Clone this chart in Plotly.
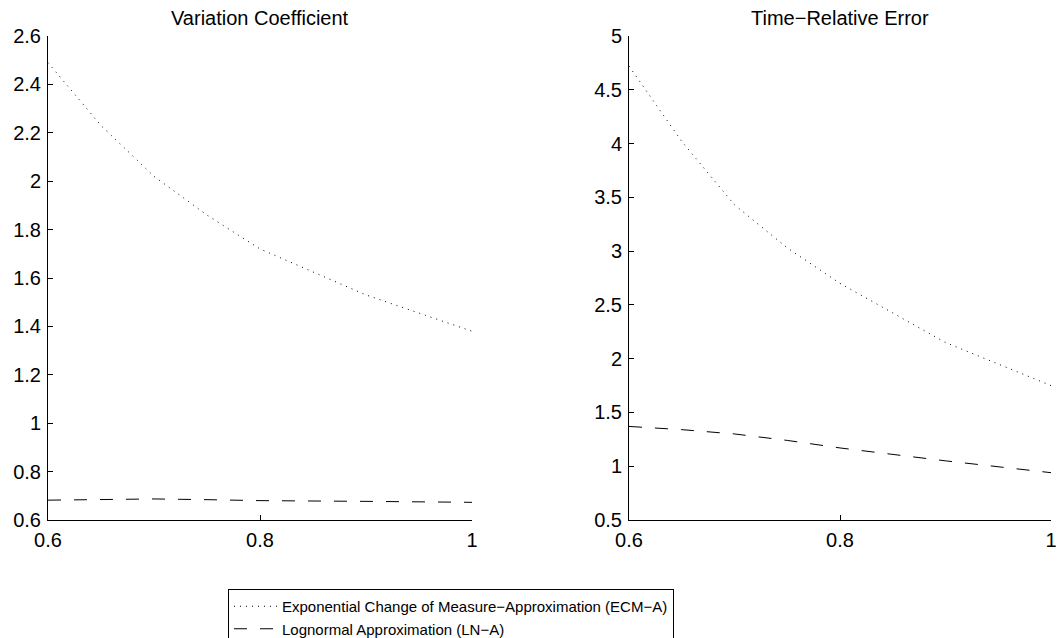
import plotly.graph_objects as go

x_vals = [0.6, 0.65, 0.7, 0.75, 0.8, 0.9, 1.0]
vc_ecm = [2.49, 2.23, 2.02, 1.86, 1.72, 1.53, 1.38]
vc_ln = [0.682, 0.684, 0.687, 0.684, 0.680, 0.677, 0.673]
tre_ecm = [4.72, 4.02, 3.43, 3.03, 2.70, 2.15, 1.75]
tre_ln = [1.37, 1.34, 1.30, 1.24, 1.17, 1.05, 0.94]

titles = ["Variation Coefficient", "Time\u2212Relative Error"]
series_names = ["Exponential Change of Measure\u2212Approximation (ECM\u2212A)",
                "Lognormal Approximation (LN\u2212A)"]

FONT = "Liberation Sans, Arial, sans-serif"
W, H = 1058, 638


def px_x(p):
    return p / W


def px_y(p):
    return 1 - p / H


fig = go.Figure()
dot_style = dict(color="black", width=1, dash="1px,5px")
dash_style = dict(color="black", width=1, dash="13px,13px")

fig.add_trace(go.Scatter(x=x_vals, y=vc_ecm, mode="lines", line=dot_style,
                         name=series_names[0], xaxis="x", yaxis="y"))
fig.add_trace(go.Scatter(x=x_vals, y=vc_ln, mode="lines", line=dash_style,
                         name=series_names[1], xaxis="x", yaxis="y"))
fig.add_trace(go.Scatter(x=x_vals, y=tre_ecm, mode="lines", line=dot_style,
                         name=series_names[0], showlegend=False, xaxis="x2", yaxis="y2"))
fig.add_trace(go.Scatter(x=x_vals, y=tre_ln, mode="lines", line=dash_style,
                         name=series_names[1], showlegend=False, xaxis="x2", yaxis="y2"))

ydom = [px_y(520), px_y(36)]
axis_common = dict(showline=True, linecolor="black", linewidth=1, mirror=False,
                   ticks="inside", ticklen=5, tickcolor="black", showgrid=False,
                   zeroline=False, automargin=False, ticklabelstandoff=2,
                   tickfont=dict(family=FONT, size=20, color="black"))

fig.update_layout(
    width=W, height=H,
    paper_bgcolor="white", plot_bgcolor="white",
    margin=dict(l=0, r=0, t=0, b=0, autoexpand=False),
    font=dict(family=FONT, color="black"),
    xaxis=dict(domain=[px_x(48), px_x(472)], range=[0.6, 1.0], tickvals=[0.6, 0.8, 1.0],
               ticktext=["0.6", "0.8", "1"], anchor="y", **axis_common),
    yaxis=dict(domain=ydom, range=[0.6, 2.6], dtick=0.2, tickformat=".1~f",
               anchor="x", **axis_common),
    xaxis2=dict(domain=[px_x(629), px_x(1051)], range=[0.6, 1.0], tickvals=[0.6, 0.8, 1.0],
                ticktext=["0.6", "0.8", "1"], anchor="y2", **axis_common),
    yaxis2=dict(domain=ydom, range=[0.5, 5.0], dtick=0.5, tickformat=".1~f",
                anchor="x2", **axis_common),
    showlegend=True,
    legend=dict(x=px_x(228), y=px_y(589), xanchor="left", yanchor="top",
                bordercolor="black", borderwidth=1, bgcolor="white",
                font=dict(family=FONT, size=15, color="black"),
                tracegroupgap=0, itemwidth=43),
    annotations=[
        dict(text=titles[0], x=px_x((48 + 472) / 2), y=px_y(18), xref="paper", yref="paper",
             xanchor="center", yanchor="middle", showarrow=False,
             font=dict(family=FONT, size=20, color="black")),
        dict(text=titles[1], x=px_x((629 + 1051) / 2), y=px_y(18), xref="paper", yref="paper",
             xanchor="center", yanchor="middle", showarrow=False,
             font=dict(family=FONT, size=20, color="black")),
    ],
)

fig.write_html("out.html",
               config={"displayModeBar": False},
               post_script="document.body.style.margin='0px';document.body.style.overflow='hidden';")
